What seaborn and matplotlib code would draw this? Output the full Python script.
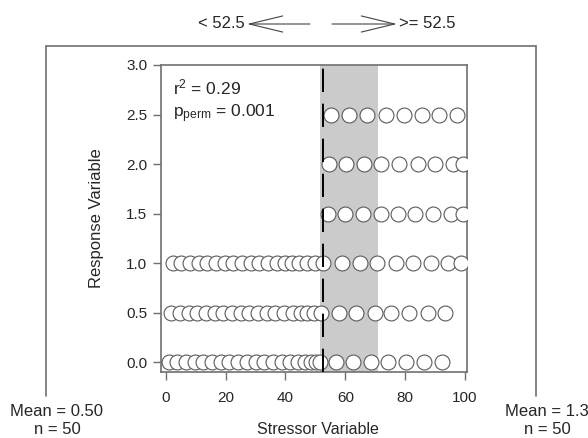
import numpy as np
import pandas as pd
import matplotlib
matplotlib.use("Agg")
import matplotlib.pyplot as plt
import seaborn as sns
from matplotlib.lines import Line2D
from matplotlib.patches import FancyArrowPatch

# ---- data ----
row00_x = [1.0, 3.9, 6.8, 9.7, 12.6, 15.5, 18.4, 21.3, 24.2, 27.1, 30.0, 32.9, 35.8, 38.7,
           41.6, 44.2, 46.5, 48.6, 50.2, 51.5,
           57.0, 62.5, 68.7, 74.2, 80.3, 86.4, 92.5]
row05_x = [1.8, 4.7, 7.6, 10.5, 13.4, 16.3, 19.2, 22.1, 25.0, 27.9, 30.8, 33.7, 36.6, 39.5,
           42.4, 45.1, 47.3, 49.4, 51.8,
           57.8, 63.7, 69.8, 75.3, 81.4, 87.5, 93.3]
row10_x = [2.3, 5.2, 8.1, 11.0, 13.9, 16.8, 19.7, 22.6, 25.5, 28.4, 31.3, 34.2, 37.1,
           39.8, 42.3, 44.7, 47.2, 49.8,
           52.7, 58.9, 64.8, 70.7, 76.8, 82.8, 88.7, 94.2, 98.7]
row15_x = [54.2, 60.0, 65.9, 71.8, 77.5, 83.4, 89.2, 95.3, 99.2]
row20_x = [54.6, 60.4, 66.2, 72.1, 78.1, 84.2, 90.0, 96.0, 99.3]
row25_x = [55.3, 61.4, 67.2, 73.7, 79.8, 85.7, 91.4, 97.5]
row_levels = [0.0, 0.5, 1.0, 1.5, 2.0, 2.5]

threshold = 52.5
shade_lo, shade_hi = 51.4, 70.9
xticks = [0, 20, 40, 60, 80, 100]
yticks = [0.0, 0.5, 1.0, 1.5, 2.0, 2.5, 3.0]
r2_text = "r$^2$ = 0.29"
p_text = r"p$_{\mathrm{perm}}$ = 0.001"
left_stats = "Mean = 0.50\nn = 50"
right_stats = "Mean = 1.3\nn = 50"

rows = [row00_x, row05_x, row10_x, row15_x, row20_x, row25_x]
df = pd.DataFrame({
    "x": np.concatenate([np.asarray(r, float) for r in rows]),
    "y": np.concatenate([np.full(len(r), lv) for r, lv in zip(rows, row_levels)]),
})

# ---- style ----
sns.set_style("white")
plt.rcParams["font.family"] = ["Liberation Sans", "DejaVu Sans"]
plt.rcParams["mathtext.fontset"] = "custom"
plt.rcParams["mathtext.rm"] = "Liberation Sans"
plt.rcParams["mathtext.it"] = "Liberation Sans:italic"
plt.rcParams["mathtext.bf"] = "Liberation Sans:bold"

W, H = 588, 438
fig = plt.figure(figsize=(W / 100, H / 100), dpi=100)
L, R, T, B = 161, 467, 65, 372
ax = fig.add_axes([L / W, 1 - B / H, (R - L) / W, (B - T) / H])

txt = "#262626"
grey = "#707070"

ax.axvspan(shade_lo, shade_hi, color="#cbcbcb", lw=0, zorder=0)
sns.scatterplot(data=df, x="x", y="y", ax=ax, s=115, facecolor="white",
                edgecolor="#5a5a5a", linewidth=0.8, zorder=3, legend=False)
ax.plot([threshold, threshold], [-0.1, 3.0], color="black", lw=1.4,
        dashes=(12, 6), zorder=4, solid_capstyle="butt", dash_capstyle="butt")

ax.set_xlim(-1.6, 100.7)
ax.set_ylim(-0.1, 3.0)
ax.set_xticks(xticks)
ax.set_xticklabels([str(v) for v in xticks])
ax.set_yticks(yticks)
ax.set_yticklabels([f"{v:.1f}" for v in yticks])
ax.tick_params(axis="both", which="major", bottom=True, left=True, top=False,
               right=False, direction="out", length=6, width=1, color=grey,
               labelcolor=txt, labelsize=11)
ax.tick_params(axis="x", pad=8)
ax.tick_params(axis="y", pad=4)
for sp in ax.spines.values():
    sp.set_visible(True)
    sp.set_color(grey)
    sp.set_linewidth(1.2)

ax.set_xlabel("")
ax.set_ylabel("Response Variable", fontsize=12, color=txt)
ax.yaxis.set_label_coords((104 - L) / (R - L), 0.5)

ax.text(2.3, 2.77, r2_text, fontsize=12.5, color=txt, ha="left", va="center")
ax.text(2.3, 2.51, p_text, fontsize=12.5, color=txt, ha="left", va="center")

# ---- figure-level decorations ----
def fx(px):
    return px / W

def fy(py):
    return 1 - py / H

fl = dict(color=grey, lw=1.2, transform=fig.transFigure)
fig.add_artist(Line2D([fx(46), fx(46)], [fy(396), fy(46)], **fl))
fig.add_artist(Line2D([fx(46), fx(536)], [fy(46), fy(46)], **fl))
fig.add_artist(Line2D([fx(536), fx(536)], [fy(46), fy(396)], **fl))

fig.text(fx(318), fy(430), "Stressor Variable", fontsize=11.5, color=txt,
         ha="center", va="center")
fig.text(fx(57), fy(420), left_stats, fontsize=12, color=txt, ha="center",
         va="center", linespacing=1.25)
fig.text(fx(547), fy(420), right_stats, fontsize=12, color=txt, ha="center",
         va="center", linespacing=1.25)

fig.text(fx(245), fy(24), "< 52.5", fontsize=12, color=txt, ha="right", va="center")
fig.text(fx(399), fy(24), ">= 52.5", fontsize=12, color=txt, ha="left", va="center")
astyle = "->,head_length=24,head_width=5.8"
for p0, p1 in [((fx(310), fy(24)), (fx(247), fy(24))),
               ((fx(332), fy(24)), (fx(397), fy(24)))]:
    fig.add_artist(FancyArrowPatch(p0, p1, transform=fig.transFigure,
                                   arrowstyle=astyle, mutation_scale=1,
                                   shrinkA=0, shrinkB=0, color="#444444", lw=0.8))

fig.savefig("out.png", dpi=100)
